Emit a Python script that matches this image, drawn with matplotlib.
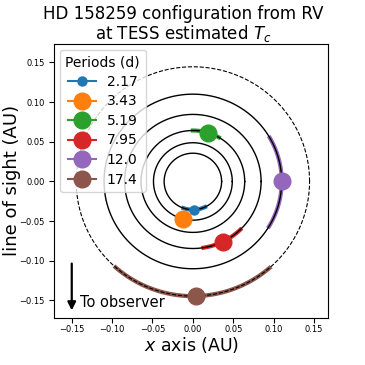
import numpy as np
import matplotlib.pyplot as plt

# periods (d), orbital radii (AU) and phase angles (deg)
periods = ['2.17', '3.43', '5.19', '7.95', '12.0', '17.4']
radii = [0.0356, 0.0488, 0.0642, 0.0845, 0.110, 0.1445]
phase = [-88, -104.5, 73.5, -64, 0, -88.5]
arc_lo = [-109, -104.5, 60, -81, -31, -131.5]
arc_hi = [-65, -104.5, 90, -46, 30, -49]
colors = ['C0', 'C1', 'C2', 'C3', 'C4', 'C5']
msizes = [6.5, 12, 12, 12, 12, 12]

fig = plt.figure(figsize=(3.65, 3.65), dpi=100)
ax = fig.add_axes([0.149, 0.130, 0.750, 0.749])

t = np.linspace(0, 2 * np.pi, 400)
for i in range(len(periods)):
    r = radii[i]
    # uncertainty arc underneath the orbit
    th = np.radians(np.linspace(arc_lo[i], arc_hi[i], 100))
    ax.plot(r * np.cos(th), r * np.sin(th), color=colors[i], lw=3, zorder=1)
    ls = '--' if i == len(periods) - 1 else '-'
    ax.plot(r * np.cos(t), r * np.sin(t), color='k', lw=1 if ls == '-' else 0.8,
            ls=ls, zorder=2)
    ph = np.radians(phase[i])
    ax.plot(r * np.cos(ph), r * np.sin(ph), '-o', color=colors[i],
            ms=msizes[i], label=periods[i], zorder=3)

ax.annotate('', xy=(-0.15, -0.166), xytext=(-0.15, -0.10),
            arrowprops=dict(arrowstyle='-|>', color='k', lw=1.6, mutation_scale=12))
ax.text(-0.14, -0.153, 'To observer', fontsize=10.5, va='center')

ax.set_xlim(-0.1715, 0.1675)
ax.set_ylim(-0.1715, 0.173)
ax.set_xticks([-0.15, -0.10, -0.05, 0.00, 0.05, 0.10, 0.15])
ax.set_yticks([-0.15, -0.10, -0.05, 0.00, 0.05, 0.10, 0.15])
ax.tick_params(labelsize=6)
ax.tick_params(axis='x', pad=2)
ax.set_xlabel('$x$ axis (AU)', fontsize=12.5, labelpad=0.5)
ax.set_ylabel('line of sight (AU)', fontsize=13)
ax.yaxis.set_label_coords(-0.122, 0.5)
fig.suptitle('HD 158259 configuration from RV\nat TESS estimated $T_c$',
             fontsize=12, x=0.503, y=0.985, va='top', linespacing=1.0)
ax.legend(title='Periods (d)', loc='upper left', fontsize=10, title_fontsize=10,
          borderaxespad=0.4, labelspacing=0.4)

fig.savefig('out.png', dpi=100)
